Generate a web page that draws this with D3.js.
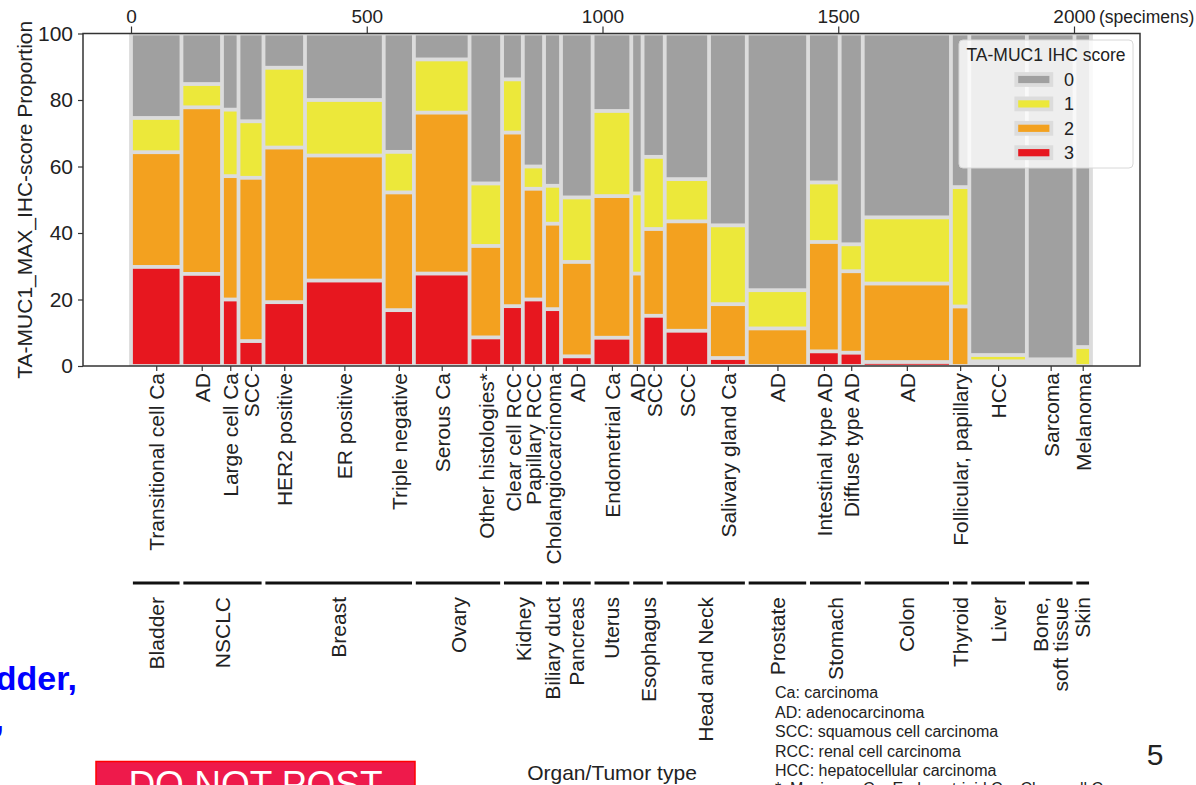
<!DOCTYPE html>
<html>
<head>
<meta charset="utf-8">
<script src="https://cdn.jsdelivr.net/npm/d3@7"></script>
<style>
  body { margin: 0; background: #fff; }
  svg { display: block; font-family: "Liberation Sans", Arial, Helvetica, sans-serif; }
</style>
</head>
<body>
<svg id="chart" width="1196" height="785"></svg>
<script>
// Tumor subtypes (left to right) and number of specimens in each
const categories = ["Transitional cell Ca","AD","Large cell Ca","SCC","HER2 positive","ER positive","Triple negative",
  "Serous Ca","Other histologies*","Clear cell RCC","Papillary RCC","Cholangiocarcinoma","AD","Endometrial Ca",
  "AD","SCC","SCC","Salivary gland Ca","AD","Intestinal type AD","Diffuse type AD","AD","Follicular, papillary",
  "HCC","Sarcoma","Melanoma"];
const specimens = [107,86,35,53,88,167,64,118,69,44,45,36,67,82,24,47,94,80,130,67,49,187,39,122,101,35];

// Share of specimens (%) at each TA-MUC1 IHC score
const score0 = [25.4,15.2,22.9,26.4,10.3,20.0,35.6,7.8,45.1,13.8,40.0,45.8,49.3,23.3,48.1,37.1,43.8,57.7,77.2,44.8,63.4,55.3,46.2,96.7,98.0,94.3];
const score1 = [10.3,7.0,20.0,17.0,24.0,16.7,12.2,16.0,18.8,16.0,6.7,11.4,19.4,25.6,24.1,21.7,12.7,23.7,11.5,17.9,8.1,19.9,35.9,1.9,0,5.7];
const score2 = [34.5,50.1,37.1,49.1,46.5,37.6,35.4,48.4,27.5,52.2,33.3,25.7,28.4,42.6,27.8,26.1,32.9,16.2,11.3,32.9,24.5,23.6,17.9,0,0,0];
const score3 = [29.8,27.7,20.0,7.5,19.2,25.7,16.8,27.8,8.6,18.0,20.0,17.1,2.9,8.5,0,15.1,10.6,2.4,0,4.4,4.0,1.2,0,0,0,0];

// Organs and how many consecutive subtypes belong to each
const organs = ["Bladder","NSCLC","Breast","Ovary","Kidney","Biliary duct","Pancreas","Uterus","Esophagus",
  "Head and Neck","Prostate","Stomach","Colon","Thyroid","Liver","Bone,\nsoft tissue","Skin"];
const organSizes = [1,3,3,2,2,1,1,1,2,2,1,2,1,1,1,1,1];

const scoreLabels = ["0","1","2","3"];
const scoreColors = ["#a0a0a0","#ece83a","#f3a11f","#e7171f"];
const xTicks = [0,500,1000,1500,2000];
const yTicks = [0,20,40,60,80,100];

const abbreviations = ["Ca: carcinoma","AD: adenocarcinoma","SCC: squamous cell carcinoma",
  "RCC: renal cell carcinoma","HCC: hepatocellular carcinoma","*: Mucinous Ca, Endometrioid Ca, Clear cell Ca"];

// ---------------------------------------------------------------
const svg = d3.select("#chart");
const frame = {left: 83, right: 1140, top: 33.5, bottom: 366};
const gap = 3.8;
const gapColor = "#dcdcdc";
const ink = "#222";

const x = d3.scaleLinear().domain([0, 2000]).range([131, 1074]);
const y = d3.scaleLinear().domain([0, 100]).range([frame.bottom, frame.top]);

// cumulative specimen positions
const starts = [];
let acc = 0;
specimens.forEach(n => { starts.push(acc); acc += n; });
const total = acc;
const centers = specimens.map((n, i) => starts[i] + n / 2);
const scores = [score0, score1, score2, score3];

// backdrop showing between the tiles
svg.append("rect")
  .attr("x", x(0) - gap / 2).attr("y", y(100))
  .attr("width", x(total) - x(0) + gap).attr("height", y(0) - y(100))
  .attr("fill", gapColor);

// mosaic tiles, score 0 stacked from the top down
const tiles = [];
categories.forEach((c, i) => {
  let top = 100;
  scores.forEach((s, k) => {
    const v = s[i];
    if (v > 0) tiles.push({i, k, top, bottom: top - v});
    top -= v;
  });
});

svg.append("g").selectAll("rect").data(tiles).join("rect")
  .attr("x", d => x(starts[d.i]) + gap / 2)
  .attr("width", d => Math.max(0.8, x(starts[d.i] + specimens[d.i]) - x(starts[d.i]) - gap))
  .attr("y", d => y(d.top) + gap / 2)
  .attr("height", d => Math.max(0.8, y(d.bottom) - y(d.top) - gap))
  .attr("fill", d => scoreColors[d.k]);

// plot frame
svg.append("rect")
  .attr("x", frame.left).attr("y", frame.top)
  .attr("width", frame.right - frame.left).attr("height", frame.bottom - frame.top)
  .attr("fill", "none").attr("stroke", "#333").attr("stroke-width", 1.5);

// top axis: cumulative specimens
const topAxis = svg.append("g").attr("transform", `translate(0,${frame.top})`)
  .call(d3.axisTop(x).tickValues(xTicks).tickSize(7).tickPadding(4).tickFormat(d3.format("d")));
topAxis.select(".domain").remove();
topAxis.selectAll("line").attr("stroke", "#333").attr("stroke-width", 1.2);
topAxis.selectAll("text").attr("font-size", 19).attr("fill", ink).attr("font-family", null);
svg.append("text")
  .attr("x", x(2000) + 25).attr("y", frame.top - 11)
  .attr("font-size", 17.5).attr("fill", ink)
  .text("(specimens)");

// left axis: proportion
const leftAxis = svg.append("g").attr("transform", `translate(${frame.left},0)`)
  .call(d3.axisLeft(y).tickValues(yTicks).tickSize(5).tickPadding(5));
leftAxis.select(".domain").remove();
leftAxis.selectAll("line").attr("stroke", "#333").attr("stroke-width", 1.2);
leftAxis.selectAll("text").attr("font-size", 21).attr("fill", ink).attr("font-family", null);

svg.append("text")
  .attr("transform", `translate(25,${(frame.top + frame.bottom) / 2}) rotate(-90)`)
  .attr("text-anchor", "middle").attr("dy", "0.35em")
  .attr("font-size", 21).attr("fill", ink)
  .text("TA-MUC1_MAX_IHC-score Proportion");

// bottom axis: subtype names
const bottomAxis = svg.append("g").attr("transform", `translate(0,${frame.bottom})`)
  .call(d3.axisBottom(x).tickValues(centers).tickSize(5).tickPadding(2)
    .tickFormat((d, i) => categories[i]));
bottomAxis.select(".domain").remove();
bottomAxis.selectAll("line").attr("stroke", "#333").attr("stroke-width", 1.2);
bottomAxis.selectAll("text")
  .attr("font-size", 21).attr("fill", ink).attr("font-family", null)
  .attr("transform", "rotate(-90)")
  .attr("x", -7).attr("y", 0).attr("dy", "0.36em")
  .attr("text-anchor", "end");

// organ brackets and names
let ci = 0;
const organSpans = organs.map((o, j) => {
  const first = ci, last = ci + organSizes[j] - 1;
  ci += organSizes[j];
  return {name: o, x0: starts[first], x1: starts[last] + specimens[last]};
});
svg.append("g").selectAll("line").data(organSpans).join("line")
  .attr("x1", d => x(d.x0) + gap / 2).attr("x2", d => x(d.x1) - gap / 2)
  .attr("y1", 583).attr("y2", 583)
  .attr("stroke", "#111").attr("stroke-width", 3);

const organLabels = svg.append("g");
organSpans.forEach(d => {
  const lines = d.name.split("\n");
  lines.forEach((ln, j) => {
    const off = (j - (lines.length - 1) / 2) * 20;
    organLabels.append("text")
      .attr("transform", `translate(${(x(d.x0) + x(d.x1)) / 2 + off},597) rotate(-90)`)
      .attr("text-anchor", "end").attr("dy", "0.36em")
      .attr("font-size", 21).attr("fill", ink)
      .text(ln);
  });
});

svg.append("text")
  .attr("x", 612).attr("y", 780)
  .attr("text-anchor", "middle").attr("font-size", 21).attr("fill", ink)
  .text("Organ/Tumor type");

// legend
const lg = svg.append("g");
lg.append("rect")
  .attr("x", 959).attr("y", 40).attr("width", 174).attr("height", 128).attr("rx", 4)
  .attr("fill", "#fff").attr("fill-opacity", 0.82)
  .attr("stroke", "#d8d8d8").attr("stroke-width", 1);
lg.append("text")
  .attr("x", 1046).attr("y", 61).attr("text-anchor", "middle")
  .attr("font-size", 17.5).attr("fill", ink)
  .text("TA-MUC1 IHC score");
scoreLabels.forEach((s, k) => {
  const cy = 79.5 + k * 24.4;
  lg.append("rect")
    .attr("x", 1016.3).attr("y", cy - 5.5).attr("width", 35).attr("height", 11)
    .attr("fill", scoreColors[k]).attr("stroke", gapColor).attr("stroke-width", 3.8);
  lg.append("text")
    .attr("x", 1064).attr("y", cy).attr("dy", "0.36em")
    .attr("font-size", 18).attr("fill", ink)
    .text(s);
});

// abbreviations
svg.append("g").selectAll("text").data(abbreviations).join("text")
  .attr("x", 775).attr("y", (d, i) => 698 + i * 19.5 - (i === 5 ? 1.5 : 0))
  .attr("font-size", 16).attr("fill", ink)
  .text(d => d);

// slide furniture around the figure
svg.append("text")
  .attr("x", 77).attr("y", 690).attr("text-anchor", "end")
  .attr("font-size", 34).attr("font-weight", "bold").attr("fill", "#0000ff")
  .text("Bladder,");
svg.append("text")
  .attr("x", 4).attr("y", 731).attr("text-anchor", "end")
  .attr("font-size", 34).attr("font-weight", "bold").attr("fill", "#0000ff")
  .text(",");

svg.append("rect")
  .attr("x", 96).attr("y", 761.5).attr("width", 319).attr("height", 40)
  .attr("fill", "#ee1a4b").attr("stroke", "#ff0000").attr("stroke-width", 1.5);
svg.append("text")
  .attr("x", 255.5).attr("y", 797).attr("text-anchor", "middle")
  .attr("font-size", 37).attr("fill", "#fff")
  .text("DO NOT POST");

svg.append("text")
  .attr("x", 1155).attr("y", 765).attr("text-anchor", "middle")
  .attr("font-size", 30).attr("fill", ink)
  .text("5");
</script>
</body>
</html>
